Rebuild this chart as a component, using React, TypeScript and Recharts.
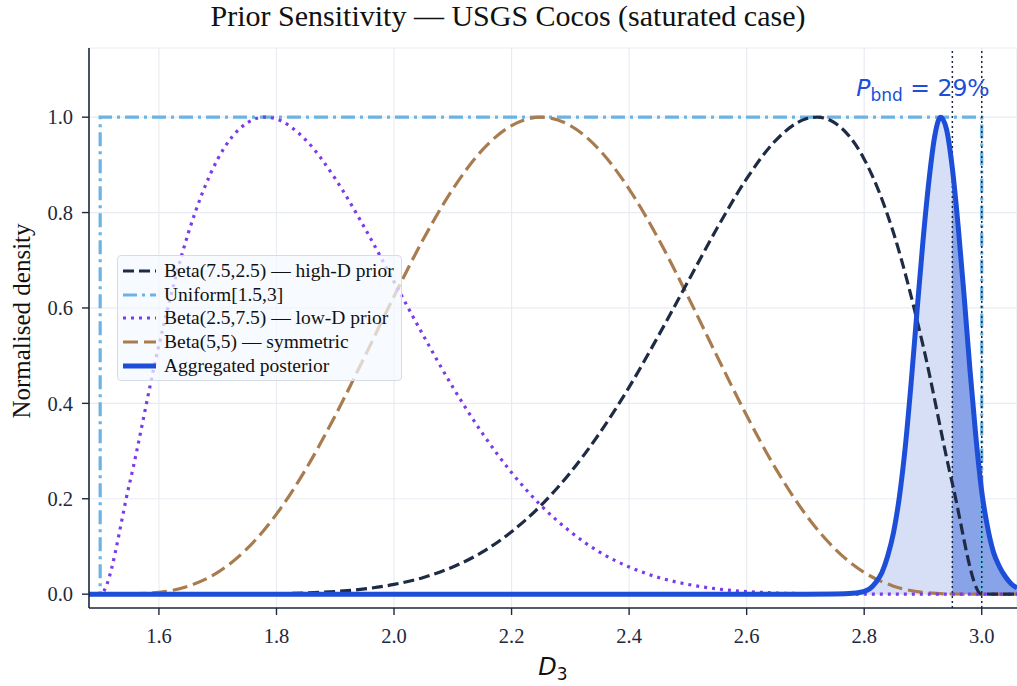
import React from 'react';
import { ComposedChart, Line, Area, XAxis, YAxis, CartesianGrid, ReferenceLine } from 'recharts';

// prior grid, D3 from 1.5 to 3.0 in steps of 0.05 (plus the two beta modes)
const HIGH_D_X = [
  1.5, 1.55, 1.6, 1.65, 1.7, 1.75, 1.8, 1.85, 1.9, 1.95, 2.0, 2.05, 2.1, 2.15, 2.2, 2.25,
  2.3, 2.35, 2.4, 2.45, 2.5, 2.55, 2.6, 2.65, 2.7, 2.72, 2.75, 2.8, 2.85, 2.9, 2.95, 3.0,
];
const HIGH_D = [
  0, 0, 0, 0.00001, 0.00008, 0.0003, 0.001, 0.0025, 0.0055, 0.011, 0.0205, 0.035, 0.057, 0.088, 0.131, 0.186,
  0.255, 0.338, 0.434, 0.542, 0.655, 0.768, 0.871, 0.952, 0.996, 1.0, 0.988, 0.912, 0.757, 0.522, 0.232, 0,
];
const LOW_D_X = [
  1.5, 1.55, 1.6, 1.65, 1.7, 1.75, 1.78, 1.8, 1.85, 1.9, 1.95, 2.0, 2.05, 2.1, 2.15, 2.2, 2.25,
  2.3, 2.35, 2.4, 2.45, 2.5, 2.55, 2.6, 2.65, 2.7, 2.75, 2.8, 2.85, 2.9, 2.95, 3.0,
];
const LOW_D = [
  0, 0.232, 0.522, 0.757, 0.912, 0.988, 1.0, 0.996, 0.952, 0.871, 0.768, 0.655, 0.542, 0.434, 0.338, 0.255, 0.186,
  0.131, 0.088, 0.057, 0.035, 0.0205, 0.011, 0.0055, 0.0025, 0.001, 0.0003, 0.00008, 0.00001, 0, 0, 0,
];
const SYM_X = [
  1.5, 1.55, 1.6, 1.65, 1.7, 1.75, 1.8, 1.85, 1.9, 1.95, 2.0, 2.05, 2.1, 2.15, 2.2, 2.25,
  2.3, 2.35, 2.4, 2.45, 2.5, 2.55, 2.6, 2.65, 2.7, 2.75, 2.8, 2.85, 2.9, 2.95, 3.0,
];
const SYMMETRIC = [
  0, 0.0003, 0.0038, 0.0168, 0.0456, 0.0953, 0.1678, 0.2622, 0.3744, 0.4979, 0.6243, 0.7445, 0.8493, 0.9308, 0.9824, 1,
  0.9824, 0.9308, 0.8493, 0.7445, 0.6243, 0.4979, 0.3744, 0.2622, 0.1678, 0.0953, 0.0456, 0.0168, 0.0038, 0.0003, 0,
];
const UNIFORM_X = [1.481, 1.5, 1.5, 3.0, 3.0, 3.06];
const UNIFORM_Y = [0, 0, 1, 1, 0, 0];

const POST_X = [
  1.481, 2.7, 2.75, 2.78, 2.8, 2.81, 2.82, 2.83, 2.84, 2.85, 2.86, 2.87, 2.88, 2.89, 2.9, 2.91, 2.92, 2.93,
  2.94, 2.95, 2.96, 2.97, 2.98, 2.99, 3.0, 3.01, 3.02, 3.03, 3.04, 3.05, 3.06,
];
const POST_Y = [
  0, 0, 0.0005, 0.002, 0.006, 0.012, 0.025, 0.045, 0.08, 0.13, 0.205, 0.31, 0.445, 0.595, 0.74, 0.865, 0.96, 1.0,
  0.975, 0.893, 0.77, 0.625, 0.47, 0.33, 0.215, 0.14, 0.088, 0.058, 0.037, 0.022, 0.013,
];
const BOUNDARY = 2.95;
const X_TICKS = [1.6, 1.8, 2.0, 2.2, 2.4, 2.6, 2.8, 3.0];
const Y_TICKS = [0, 0.2, 0.4, 0.6, 0.8, 1.0];

const toPoints = (xs: number[], ys: number[]) => xs.map((x, i) => ({ x, y: ys[i] }));

const highD = toPoints(HIGH_D_X, HIGH_D).concat([{ x: 3.06, y: 0 }]);
const lowD = [{ x: 1.481, y: 0 }].concat(toPoints(LOW_D_X, LOW_D), [{ x: 3.06, y: 0 }]);
const sym = [{ x: 1.481, y: 0 }].concat(toPoints(SYM_X, SYMMETRIC), [{ x: 3.06, y: 0 }]);
const uniform = toPoints(UNIFORM_X, UNIFORM_Y);
const posterior = toPoints(POST_X, POST_Y);
const tail = posterior.filter((p) => p.x >= BOUNDARY);

const SERIES = [
  { label: 'Beta(7.5,2.5) — high-D prior', color: '#1e2b45', dash: '11 5', width: 3.2 },
  { label: 'Uniform[1.5,3]', color: '#6cb3e4', dash: '14 5 3 5', width: 3.2 },
  { label: 'Beta(2.5,7.5) — low-D prior', color: '#7c3aed', dash: '3 5', width: 3.2 },
  { label: 'Beta(5,5) — symmetric', color: '#a87c4f', dash: '15 6', width: 3.2 },
  { label: 'Aggregated posterior', color: '#1d4ed8', dash: undefined, width: 5 },
];

const SERIF = '"Liberation Serif", "Times New Roman", serif';
const SANS = '"DejaVu Sans", sans-serif';
const INK = '#1e293b';

export default function App() {
  return (
    <div style={{ position: 'absolute', left: 0, top: 0, width: 1017, height: 686, background: '#fff' }}>
      <ComposedChart width={1017} height={686} margin={{ top: 48, right: 0, bottom: 0, left: 0 }}>
        <CartesianGrid stroke="#e8ecf2" strokeWidth={1.2} />
        <XAxis
          type="number"
          dataKey="x"
          domain={[1.481, 3.06]}
          ticks={X_TICKS}
          allowDataOverflow
          height={78}
          tickFormatter={(v: number) => v.toFixed(1)}
          tick={{ fill: INK, fontSize: 20.5, fontFamily: SERIF }}
          tickSize={7}
          tickMargin={13}
          axisLine={{ stroke: INK, strokeWidth: 1.6 }}
          tickLine={{ stroke: INK, strokeWidth: 1.4 }}
        />
        <YAxis
          type="number"
          dataKey="y"
          domain={[-0.029, 1.145]}
          ticks={Y_TICKS}
          allowDataOverflow
          width={89}
          tickFormatter={(v: number) => v.toFixed(1)}
          tick={{ fill: INK, fontSize: 20.5, fontFamily: SERIF }}
          tickSize={7}
          tickMargin={9}
          axisLine={{ stroke: INK, strokeWidth: 1.6 }}
          tickLine={{ stroke: INK, strokeWidth: 1.4 }}
        />
        <Area data={posterior} dataKey="y" type="monotone" baseValue={0} fill="#d6dff6" fillOpacity={1} stroke="none" isAnimationActive={false} />
        <Area data={tail} dataKey="y" type="monotone" baseValue={0} fill="#89a3e8" fillOpacity={1} stroke="none" isAnimationActive={false} />
        <Line data={uniform} dataKey="y" type="linear" stroke={SERIES[1].color} strokeWidth={SERIES[1].width} strokeDasharray={SERIES[1].dash} dot={false} isAnimationActive={false} />
        <Line data={sym} dataKey="y" type="monotone" stroke={SERIES[3].color} strokeWidth={SERIES[3].width} strokeDasharray={SERIES[3].dash} dot={false} isAnimationActive={false} />
        <Line data={lowD} dataKey="y" type="monotone" stroke={SERIES[2].color} strokeWidth={SERIES[2].width} strokeDasharray={SERIES[2].dash} dot={false} isAnimationActive={false} />
        <Line data={highD} dataKey="y" type="monotone" stroke={SERIES[0].color} strokeWidth={SERIES[0].width} strokeDasharray={SERIES[0].dash} dot={false} isAnimationActive={false} />
        <ReferenceLine x={BOUNDARY} stroke={INK} strokeWidth={1.5} strokeDasharray="2 3" />
        <ReferenceLine x={3.0} stroke={INK} strokeWidth={1.5} strokeDasharray="2 3" />
        <Line data={posterior} dataKey="y" type="monotone" stroke={SERIES[4].color} strokeWidth={5} dot={false} isAnimationActive={false} />
      </ComposedChart>

      <svg width={1017} height={686} style={{ position: 'absolute', left: 0, top: 0, pointerEvents: 'none' }}>
        <text x={508} y={26} textAnchor="middle" fontFamily={SERIF} fontSize={30} fill="#111">
          Prior Sensitivity — USGS Cocos (saturated case)
        </text>
        <text x={0} y={0} transform="translate(30 321) rotate(-90)" textAnchor="middle" fontFamily={SERIF} fontSize={25} fill="#111">
          Normalised density
        </text>
        <text x={553} y={675} textAnchor="middle" fontFamily={SANS} fontSize={24} fill="#111">
          <tspan fontStyle="italic">D</tspan>
          <tspan fontSize={17} dy={5}>3</tspan>
        </text>
        <text x={923} y={96} textAnchor="middle" fontFamily={SANS} fontSize={23.5} fill="#1d4ed8">
          <tspan fontStyle="italic">P</tspan>
          <tspan fontSize={17} dy={5}>bnd</tspan>
          <tspan dy={-5}> = 29%</tspan>
        </text>
      </svg>

      <div
        style={{
          position: 'absolute',
          left: 117,
          top: 255,
          width: 285,
          height: 126,
          boxSizing: 'border-box',
          background: 'rgba(244,248,253,0.72)',
          border: '1px solid #d6dce4',
          borderRadius: 4,
          paddingTop: 3,
        }}
      >
        {SERIES.map((s) => (
          <div key={s.label} style={{ display: 'flex', alignItems: 'center', height: 23.8 }}>
            <svg width={46} height={10} style={{ flex: 'none' }}>
              <line x1={5} x2={38} y1={5} y2={5} stroke={s.color} strokeWidth={s.width} strokeDasharray={s.dash} />
            </svg>
            <span style={{ fontFamily: SERIF, fontSize: 19.5, color: '#111', lineHeight: '20px', whiteSpace: 'nowrap' }}>{s.label}</span>
          </div>
        ))}
      </div>
    </div>
  );
}
